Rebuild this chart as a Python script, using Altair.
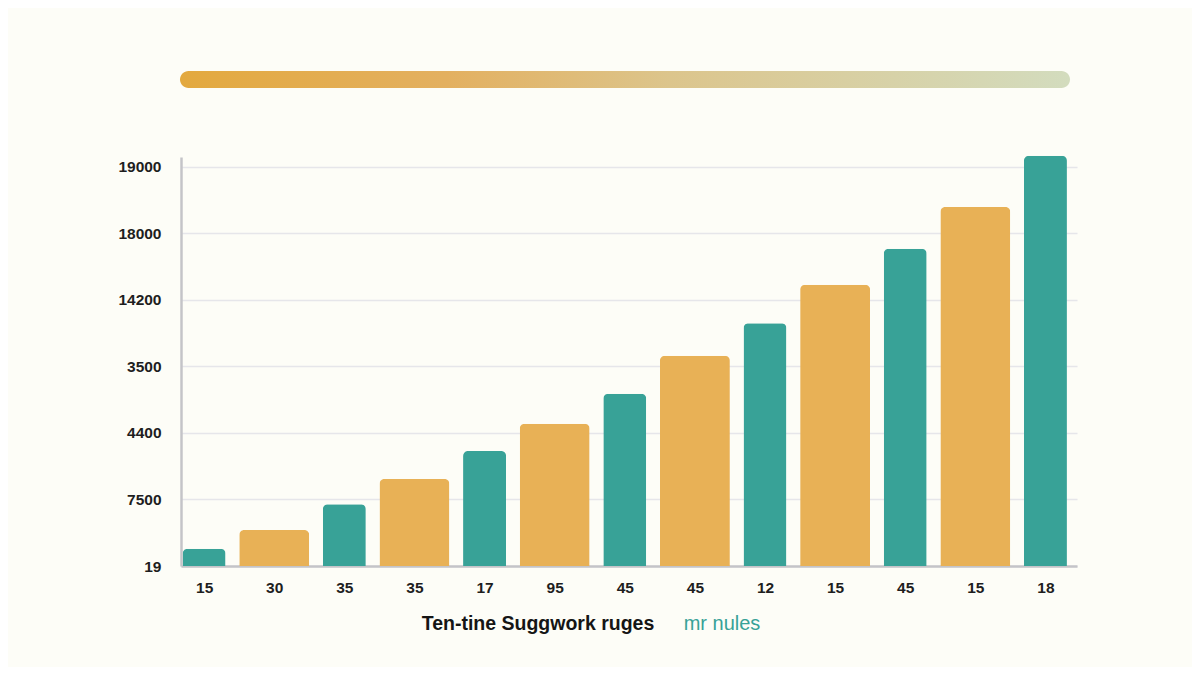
import altair as alt
import pandas as pd

# Valores (unidades = líneas de la cuadrícula)
x_labels = ["15", "30", "35", "35", "17", "95", "45", "45", "12", "15", "45", "15", "18"]
bar_heights = [0.26, 0.54, 0.93, 1.31, 1.73, 2.14, 2.59, 3.16, 3.65, 4.23, 4.77, 5.40, 6.17]
bar_groups = ["teal", "orange", "teal", "orange", "teal", "orange", "teal",
              "orange", "teal", "orange", "teal", "orange", "teal"]
y_tick_labels = ["19", "7500", "4400", "3500", "14200", "18000", "19000"]

title_text = "Ten-tine Suggwork ruges"
legend_text = "mr nules"

TEAL = "#38a297"
ORANGE = "#e8b156"
BG = "#fdfdf7"

data = pd.DataFrame({
    "idx": list(range(len(x_labels))),
    "valor": bar_heights,
    "grupo": bar_groups,
})


def js_array(items):
    return "[" + ",".join("'" + s + "'" for s in items) + "]"


x_enc = alt.X(
    "idx:Q",
    scale=alt.Scale(domain=[-0.33, 12.45], nice=False, zero=False, padding=0),
    axis=alt.Axis(
        values=list(range(len(x_labels))),
        labelExpr=js_array(x_labels) + "[round(datum.value)]",
        title=None,
        grid=False,
        ticks=False,
        domainColor="#c4c4c8",
        domainWidth=2.5,
        labelPadding=14,
        labelFontSize=15.5,
        labelFontWeight="bold",
        labelColor="#1e1e1e",
        labelFont="Liberation Sans",
    ),
)

y_enc = alt.Y(
    "valor:Q",
    scale=alt.Scale(domain=[0, 6.15], nice=False, padding=0),
    axis=alt.Axis(
        values=list(range(len(y_tick_labels))),
        labelExpr=js_array(y_tick_labels) + "[round(datum.value)]",
        title=None,
        grid=True,
        gridColor="#e6e6ea",
        gridWidth=1.5,
        ticks=False,
        domainColor="#c4c4c8",
        domainWidth=2.5,
        labelPadding=20,
        labelFontSize=15.5,
        labelFontWeight="bold",
        labelColor="#1e1e1e",
        labelFont="Liberation Sans",
    ),
)

base = alt.Chart(data)

teal_bars = (
    base.transform_filter(alt.datum.grupo == "teal")
    .mark_bar(width=43, color=TEAL, cornerRadiusTopLeft=5, cornerRadiusTopRight=5)
    .encode(x=x_enc, y=y_enc)
)

orange_bars = (
    base.transform_filter(alt.datum.grupo == "orange")
    .mark_bar(width=70, color=ORANGE, cornerRadiusTopLeft=5, cornerRadiusTopRight=5)
    .encode(x=x_enc, y=y_enc)
)

gradient_bar = (
    alt.Chart(pd.DataFrame({"k": [0]}))
    .mark_rect(
        cornerRadius=8.5,
        color=alt.LinearGradient(
            gradient="linear",
            stops=[
                alt.GradientStop(color="#e3a93f", offset=0),
                alt.GradientStop(color="#e3b060", offset=0.3),
                alt.GradientStop(color="#dcc58c", offset=0.55),
                alt.GradientStop(color="#d3dcbe", offset=1),
            ],
            x1=0, x2=1, y1=0, y2=0,
        ),
    )
    .encode(x=alt.value(-1), x2=alt.value(889), y=alt.value(-86), y2=alt.value(-69))
)

title_mark = (
    alt.Chart(pd.DataFrame({"t": [title_text]}))
    .mark_text(fontSize=19.5, fontWeight="bold", color="#151515", font="Liberation Sans")
    .encode(text="t:N", x=alt.value(357), y=alt.value(467))
)

legend_mark = (
    alt.Chart(pd.DataFrame({"t": [legend_text]}))
    .mark_text(fontSize=20, color=TEAL, font="Liberation Sans")
    .encode(text="t:N", x=alt.value(541), y=alt.value(467))
)

chart = (
    alt.layer(gradient_bar, orange_bars, teal_bars, title_mark, legend_mark)
    .properties(
        width=896,
        height=409,
        autosize=alt.AutoSizeParams(type="none"),
        padding={"left": 173, "top": 149, "right": 115, "bottom": 101},
        background=BG,
    )
    .configure_view(stroke=None)
)

chart.save("out.html", embed_options={"renderer": "svg", "actions": False})
